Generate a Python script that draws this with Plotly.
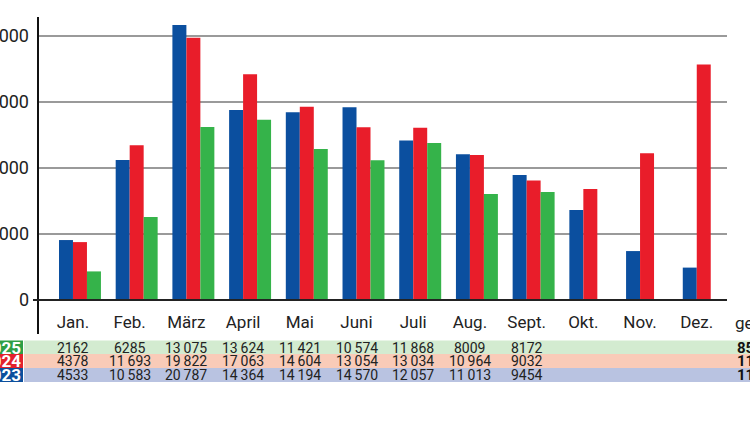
import plotly.graph_objects as go

months = ["Jan.", "Feb.", "März", "April", "Mai", "Juni", "Juli", "Aug.", "Sept.", "Okt.", "Nov.", "Dez."]
years = ["2023", "2024", "2025"]
v2023 = [4533, 10583, 20787, 14364, 14194, 14570, 12057, 11013, 9454, 6800, 3700, 2450]
v2024 = [4378, 11693, 19822, 17063, 14604, 13054, 13034, 10964, 9032, 8400, 11100, 17800]
v2025 = [2162, 6285, 13075, 13624, 11421, 10574, 11868, 8009, 8172, None, None, None]
# table values (Jan-Sept as printed)
t2025 = v2025[:9]
t2024 = v2024[:9]
t2023 = v2023[:9]
ytick_vals = [0, 5000, 10000, 15000, 20000]
ytick_text = ["0", "5\u2009000", "10\u2009000", "15\u2009000", "20\u2009000"]

C_BLUE = "#0b4f9f"
C_RED = "#e91d2a"
C_GREEN = "#35b34a"
BAND = {"2025": "#d3ebd0", "2024": "#f9cbb8", "2023": "#b9c3e1"}
BOX = {"2025": "#2e9e45", "2024": "#e3222c", "2023": "#0c4f9d"}
FONT = "Roboto, Liberation Sans, sans-serif"

W, H = 750, 421
L, R, T, B = 38, 23, 17, 121
PW, PH = W - L - R, H - T - B


def px(x):
    return (x - L) / PW


def py(y):
    return (T + PH - y) / PH


def fmt(v):
    s = str(v)
    if v >= 10000:
        s = s[:-3] + "\u2009" + s[-3:]
    return s


fig = go.Figure()
for name, vals, col in [("2023", v2023, C_BLUE), ("2024", v2024, C_RED), ("2025", v2025, C_GREEN)]:
    fig.add_trace(go.Bar(x=list(range(12)), y=vals, name=name, marker=dict(color=col, line=dict(width=0))))

shapes = []
annotations = []

# table rows
rows = [("2025", t2025, 347.5), ("2024", t2024, 361), ("2023", t2023, 375)]
for yr, vals, yc in rows:
    shapes.append(dict(type="rect", xref="paper", yref="paper", x0=px(24), x1=px(760),
                       y0=py(yc - 7), y1=py(yc + 7), fillcolor=BAND[yr], line=dict(width=0), layer="below"))
    shapes.append(dict(type="rect", xref="paper", yref="paper", x0=px(-30), x1=px(23),
                       y0=py(yc - 7), y1=py(yc + 7), fillcolor=BOX[yr], line=dict(width=0), layer="below"))
    annotations.append(dict(text="<b>" + yr + "</b>", xref="paper", yref="paper", x=px(23), y=py(yc),
                            xanchor="right", yanchor="middle", showarrow=False,
                            font=dict(family=FONT, size=17, color="white")))
    for i, v in enumerate(vals):
        annotations.append(dict(text=fmt(v), xref="x", yref="paper", x=i, y=py(yc), xshift=-7,
                                xanchor="center", yanchor="middle", showarrow=False,
                                font=dict(family=FONT, size=14, color="#222")))
    tot = sum(vals)
    annotations.append(dict(text="<b>" + fmt(tot) + "</b>", xref="paper", yref="paper", x=px(735), y=py(yc),
                            xanchor="left", yanchor="middle", showarrow=False,
                            font=dict(family=FONT, size=15, color="#111")))

annotations.append(dict(text="gesamt", xref="paper", yref="paper", x=px(733), y=py(323),
                        xanchor="left", yanchor="middle", showarrow=False,
                        font=dict(family=FONT, size=17, color="#222")))

# axis lines
shapes.append(dict(type="line", xref="paper", yref="paper", x0=px(38), x1=px(38), y0=py(17), y1=py(334),
                   line=dict(color="#111", width=2)))
shapes.append(dict(type="line", xref="paper", yref="paper", x0=px(33), x1=px(727), y0=py(300), y1=py(300),
                   line=dict(color="#222", width=2)))

fig.update_layout(
    width=W, height=H,
    margin=dict(l=L, r=R, t=T, b=B, autoexpand=False),
    paper_bgcolor="white", plot_bgcolor="white",
    barmode="group", bargap=0.26, bargroupgap=0,
    showlegend=False,
    shapes=shapes, annotations=annotations,
    xaxis=dict(range=[-0.74, 11.41], tickmode="array", tickvals=list(range(12)), ticktext=months,
               showgrid=False, showline=False, zeroline=False, ticks="", ticklabelshift=-7,
               ticklabelstandoff=10, tickfont=dict(family=FONT, size=17, color="#222")),
    yaxis=dict(range=[0, 21400], tickmode="array", tickvals=ytick_vals, ticktext=ytick_text,
               showgrid=True, gridcolor="#9a9a9a", gridwidth=1.5, zeroline=False, showline=False,
               ticks="", ticklabelstandoff=8, tickfont=dict(family=FONT, size=18, color="#222")),
    font=dict(family=FONT),
)

fig.write_html("out.html", config={"displayModeBar": False},
               post_script="document.body.style.margin='0';")
